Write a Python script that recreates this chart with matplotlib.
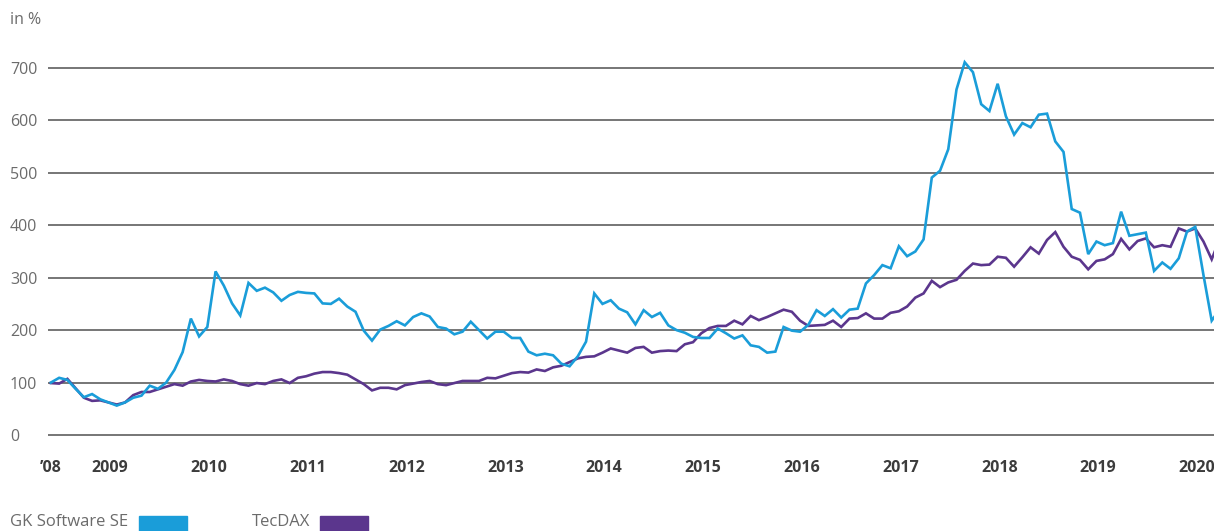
import numpy as np
import matplotlib
matplotlib.use('Agg')
import matplotlib.pyplot as plt
from matplotlib.patches import Rectangle

plt.rcParams['font.family'] = ['Open Sans', 'DejaVu Sans']

# monthly index values, June 2008 = 100 (last point April 2020 is cut by the frame)
gk_software = [
    100, 109, 105, 88, 72, 78, 68, 62, 56, 62, 71, 75, 94, 88, 100, 124, 158, 222, 188, 206,
    312, 285, 251, 228, 290, 275, 281, 272, 256, 267, 273, 271, 270, 251, 250, 260, 245, 235, 199, 180,
    201, 208, 217, 209, 225, 232, 226, 206, 203, 192, 197, 216, 200, 184, 197, 197, 185, 185, 159, 152,
    155, 152, 136, 131, 150, 178, 270, 250, 257, 241, 234, 211, 238, 225, 233, 209, 200, 195, 187, 185,
    185, 203, 194, 184, 190, 171, 168, 157, 159, 206, 199, 197, 210, 238, 227, 240, 224, 239, 241, 289,
    305, 324, 318, 360, 341, 350, 373, 491, 504, 545, 659, 711, 692, 631, 618, 670, 608, 573, 595, 587,
    611, 613, 560, 540, 431, 424, 345, 369, 362, 366, 426, 380, 383, 386, 313, 329, 317, 337, 388, 397,
    305, 218, 240,
]
tecdax = [
    99, 98, 107, 89, 71, 65, 66, 62, 58, 62, 76, 82, 82, 87, 92, 97, 94, 102, 105, 103,
    102, 106, 103, 97, 94, 99, 97, 103, 106, 99, 109, 112, 117, 120, 120, 118, 115, 106, 97, 85,
    90, 90, 87, 95, 98, 101, 103, 97, 95, 99, 103, 103, 103, 109, 108, 113, 118, 120, 119, 125,
    122, 129, 132, 139, 146, 149, 150, 157, 165, 161, 157, 166, 168, 157, 160, 161, 160, 173, 177, 194,
    204, 208, 208, 218, 211, 227, 219, 225, 232, 239, 235, 218, 208, 209, 210, 218, 206, 222, 223, 232,
    222, 222, 233, 236, 245, 262, 270, 294, 282, 291, 296, 313, 327, 324, 325, 340, 338, 321, 339, 358,
    346, 372, 387, 359, 340, 334, 316, 332, 335, 345, 374, 354, 370, 375, 358, 362, 359, 394, 388, 394,
    369, 335, 375,
]
year_labels = ['\u201908', '2009', '2010', '2011', '2012', '2013', '2014',
               '2015', '2016', '2017', '2018', '2019', '2020']
y_ticks = [0, 100, 200, 300, 400, 500, 600, 700]

blue = '#1a9dd9'
purple = '#5b368d'

months = np.arange(len(gk_software))
year_pos = [0] + [7.2 + 12 * k for k in range(len(year_labels) - 1)]

fig = plt.figure(figsize=(12.14, 5.31), dpi=100)
ax = fig.add_axes([0.0395, 0.171, 0.9605, 0.7305])

for y in y_ticks:
    ax.axhline(y, color='#5f5f5f', lw=1.2, zorder=1)

ax.plot(months, gk_software, color=blue, lw=1.9, zorder=3, solid_joinstyle='miter')
ax.plot(months, tecdax, color=purple, lw=1.9, zorder=2, solid_joinstyle='miter')

ax.set_xlim(-0.36, 141.28)
ax.set_ylim(-10, 730)

ax.set_yticks(y_ticks)
ax.set_yticklabels([str(v) for v in y_ticks])
ax.tick_params(axis='y', length=0, pad=27.4, labelsize=11.5, labelcolor='#6b6b6b')
for lab in ax.get_yticklabels():
    lab.set_horizontalalignment('left')

ax.set_xticks(year_pos)
ax.set_xticklabels(year_labels, fontweight='bold')
ax.tick_params(axis='x', length=0, pad=14, labelsize=11.5, labelcolor='#3c3c3c')

for s in ax.spines.values():
    s.set_visible(False)

fig.text(10 / 1214, 1 - 20 / 531, 'in %', fontsize=11.5, color='#6b6b6b', va='center', ha='left')

# legend
fig.text(10 / 1214, 1 - 522 / 531, 'GK Software SE', fontsize=12, color='#6b6b6b', va='center', ha='left')
fig.patches.append(Rectangle((139 / 1214, 1 - 531 / 531), 48 / 1214, 15 / 531,
                             transform=fig.transFigure, color=blue))
fig.text(252 / 1214, 1 - 522 / 531, 'TecDAX', fontsize=12, color='#6b6b6b', va='center', ha='left')
fig.patches.append(Rectangle((320 / 1214, 1 - 531 / 531), 48 / 1214, 15 / 531,
                             transform=fig.transFigure, color=purple))

fig.savefig('out.png', dpi=100)
